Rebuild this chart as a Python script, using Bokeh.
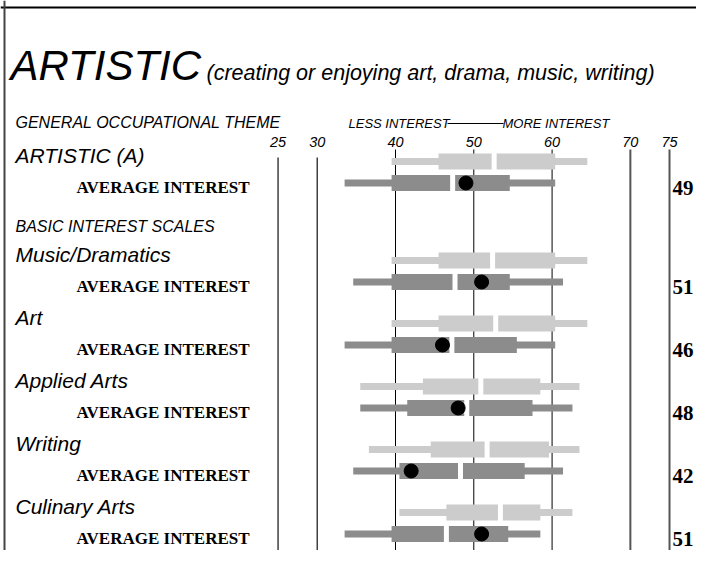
from bokeh.plotting import figure
from bokeh.models import Range1d, ColumnDataSource, Span
from bokeh.core.properties import value
from bokeh.embed import file_html
from bokeh.resources import INLINE

# ---------------- data ----------------
scales = ["ARTISTIC (A)", "Music/Dramatics", "Art", "Applied Arts", "Writing", "Culinary Arts"]
scores = [49, 51, 46, 48, 42, 51]
# light (upper) distribution
light_low = [39.5, 39.5, 39.5, 35.5, 36.6, 40.5]
light_q1 = [45.5, 45.5, 45.5, 43.5, 44.5, 46.5]
light_med = [52.6, 52.4, 52.8, 50.9, 51.7, 53.4]
light_q3 = [60.4, 60.4, 60.4, 58.5, 59.6, 58.5]
light_high = [64.5, 64.5, 64.5, 63.5, 63.5, 62.6]
# dark (lower) distribution
dark_low = [33.5, 34.6, 33.5, 35.5, 34.6, 33.5]
dark_q1 = [39.5, 39.5, 39.5, 41.5, 40.5, 39.5]
dark_med = [47.3, 47.6, 47.2, 49.1, 48.3, 46.5]
dark_q3 = [54.6, 54.6, 55.5, 57.5, 56.5, 54.4]
dark_high = [60.4, 61.4, 60.4, 62.6, 61.4, 58.5]
ticks = [25, 30, 40, 50, 60, 70, 75]
tick_labels = ["25", "30", "40", "50", "60", "70", "75"]

# ---------------- layout ----------------
W, H = 696, 550
PX_PER = 7.829          # pixels per score unit
X40 = 395               # canvas x of score 40


def sx(px):
    """canvas pixel -> score units"""
    return 40 + (px - X40) / PX_PER


# y data units = canvas pixels (top = 0)
light_y = [161 if i == 0 else 260 + (i - 1) * 63 for i in range(len(scales))]
dark_y = [y + 21.5 for y in light_y]

LIGHT = "#cccccc"
DARK = "#8c8c8c"
SANS = value("Liberation Sans")
SERIF = value("Liberation Serif")

p = figure(width=W, height=H, x_range=Range1d(sx(0), sx(W)), y_range=Range1d(H, 0),
           output_backend="svg", toolbar_location=None,
           x_axis_location=None, y_axis_location=None, min_border=0)
p.xgrid.visible = False
p.ygrid.visible = False
p.outline_line_color = None
p.background_fill_color = "white"

# border (top and left)
p.add_layout(Span(location=7, dimension="width", line_color="black", line_width=2))
p.add_layout(Span(location=sx(4), dimension="height", line_color="#444444", line_width=2))

# vertical reference lines
line_cols = ["#222222" if t in (25, 30) else ("#555555" if t in (70, 75) else "black") for t in ticks]
line_w = [1.3 if t in (25, 30) else (2 if t in (70, 75) else 1) for t in ticks]
line_top = [157 if t in (25, 30) else 149 for t in ticks]
p.segment(x0=ticks, y0=line_top, x1=ticks, y1=[H] * len(ticks),
          line_color=line_cols, line_width=line_w)

# tick labels
p.text(x=ticks, y=[141] * len(ticks), text=tick_labels, text_font=SANS,
       text_font_style="italic", text_font_size="14.5px", text_align="center",
       text_baseline="middle", text_color="black")

src = ColumnDataSource(dict(
    ly=light_y, dy=dark_y,
    ll=light_low, lq1=light_q1, lm=light_med, lq3=light_q3, lh=light_high,
    dl=dark_low, dq1=dark_q1, dm=dark_med, dq3=dark_q3, dh=dark_high,
    score=scores, score_txt=[str(s) for s in scores], name=scales,
    label_y=[y - 6 for y in light_y],
    avg_y=[y + 4 for y in dark_y],
    score_y=[y + 4.5 for y in dark_y],
    label_x=[sx(15)] * len(scales),
    avg_x=[sx(76)] * len(scales),
    score_x=[sx(693)] * len(scales),
    avg_txt=["AVERAGE INTEREST"] * len(scales),
))

THIN, THICK = 7, 16
# light rows
p.hbar(y="ly", left="ll", right="lh", height=THIN, source=src, fill_color=LIGHT, line_color=None)
p.hbar(y="ly", left="lq1", right="lq3", height=THICK, source=src, fill_color=LIGHT, line_color=None)
p.rect(x="lm", y="ly", width=5, width_units="screen", height=THICK + 2, source=src,
       fill_color="white", line_color=None)
# dark rows
p.hbar(y="dy", left="dl", right="dh", height=THIN, source=src, fill_color=DARK, line_color=None)
p.hbar(y="dy", left="dq1", right="dq3", height=THICK, source=src, fill_color=DARK, line_color=None)
p.rect(x="dm", y="dy", width=5, width_units="screen", height=THICK + 2, source=src,
       fill_color="white", line_color=None)
# score dots
p.scatter(x="score", y="dy", size=14, source=src, fill_color="black", line_color="black")

# row labels
p.text(x="label_x", y="label_y", text="name", source=src, text_font=SANS,
       text_font_style="italic", text_font_size="21px", text_baseline="middle",
       text_align="left", text_color="black")
p.text(x="avg_x", y="avg_y", text="avg_txt", source=src,
       text_font=SERIF, text_font_style="bold", text_font_size="17px", text_baseline="middle",
       text_align="left", text_color="black")
p.text(x="score_x", y="score_y", text="score_txt", source=src,
       text_font=SERIF, text_font_style="bold", text_font_size="21px", text_baseline="middle",
       text_align="right", text_color="black")

# titles and headers
p.text(x=[sx(10)], y=[65], text=["ARTISTIC"], text_font=SANS, text_font_style="italic",
       text_font_size="42px", text_baseline="middle", text_align="left", text_color="black")
p.text(x=[sx(206)], y=[72], text=["(creating or enjoying art, drama, music, writing)"], text_font=SANS,
       text_font_style="italic", text_font_size="21.5px", text_baseline="middle",
       text_align="left", text_color="black")
p.text(x=[sx(15)], y=[122], text=["GENERAL OCCUPATIONAL THEME"], text_font=SANS,
       text_font_style="italic", text_font_size="16px", text_baseline="middle",
       text_align="left", text_color="black")
p.text(x=[sx(15)], y=[226], text=["BASIC INTEREST SCALES"], text_font=SANS,
       text_font_style="italic", text_font_size="16px", text_baseline="middle",
       text_align="left", text_color="black")
p.text(x=[sx(348)], y=[123], text=["LESS INTEREST"], text_font=SANS,
       text_font_style="italic", text_font_size="13px", text_baseline="middle",
       text_align="left", text_color="black")
p.segment(x0=[sx(447)], y0=[123], x1=[sx(503)], y1=[123], line_color="black", line_width=1)
p.text(x=[sx(502)], y=[123], text=["MORE INTEREST"], text_font=SANS,
       text_font_style="italic", text_font_size="13px", text_baseline="middle",
       text_align="left", text_color="black")

open("out.html", "w").write(file_html(p, INLINE))
